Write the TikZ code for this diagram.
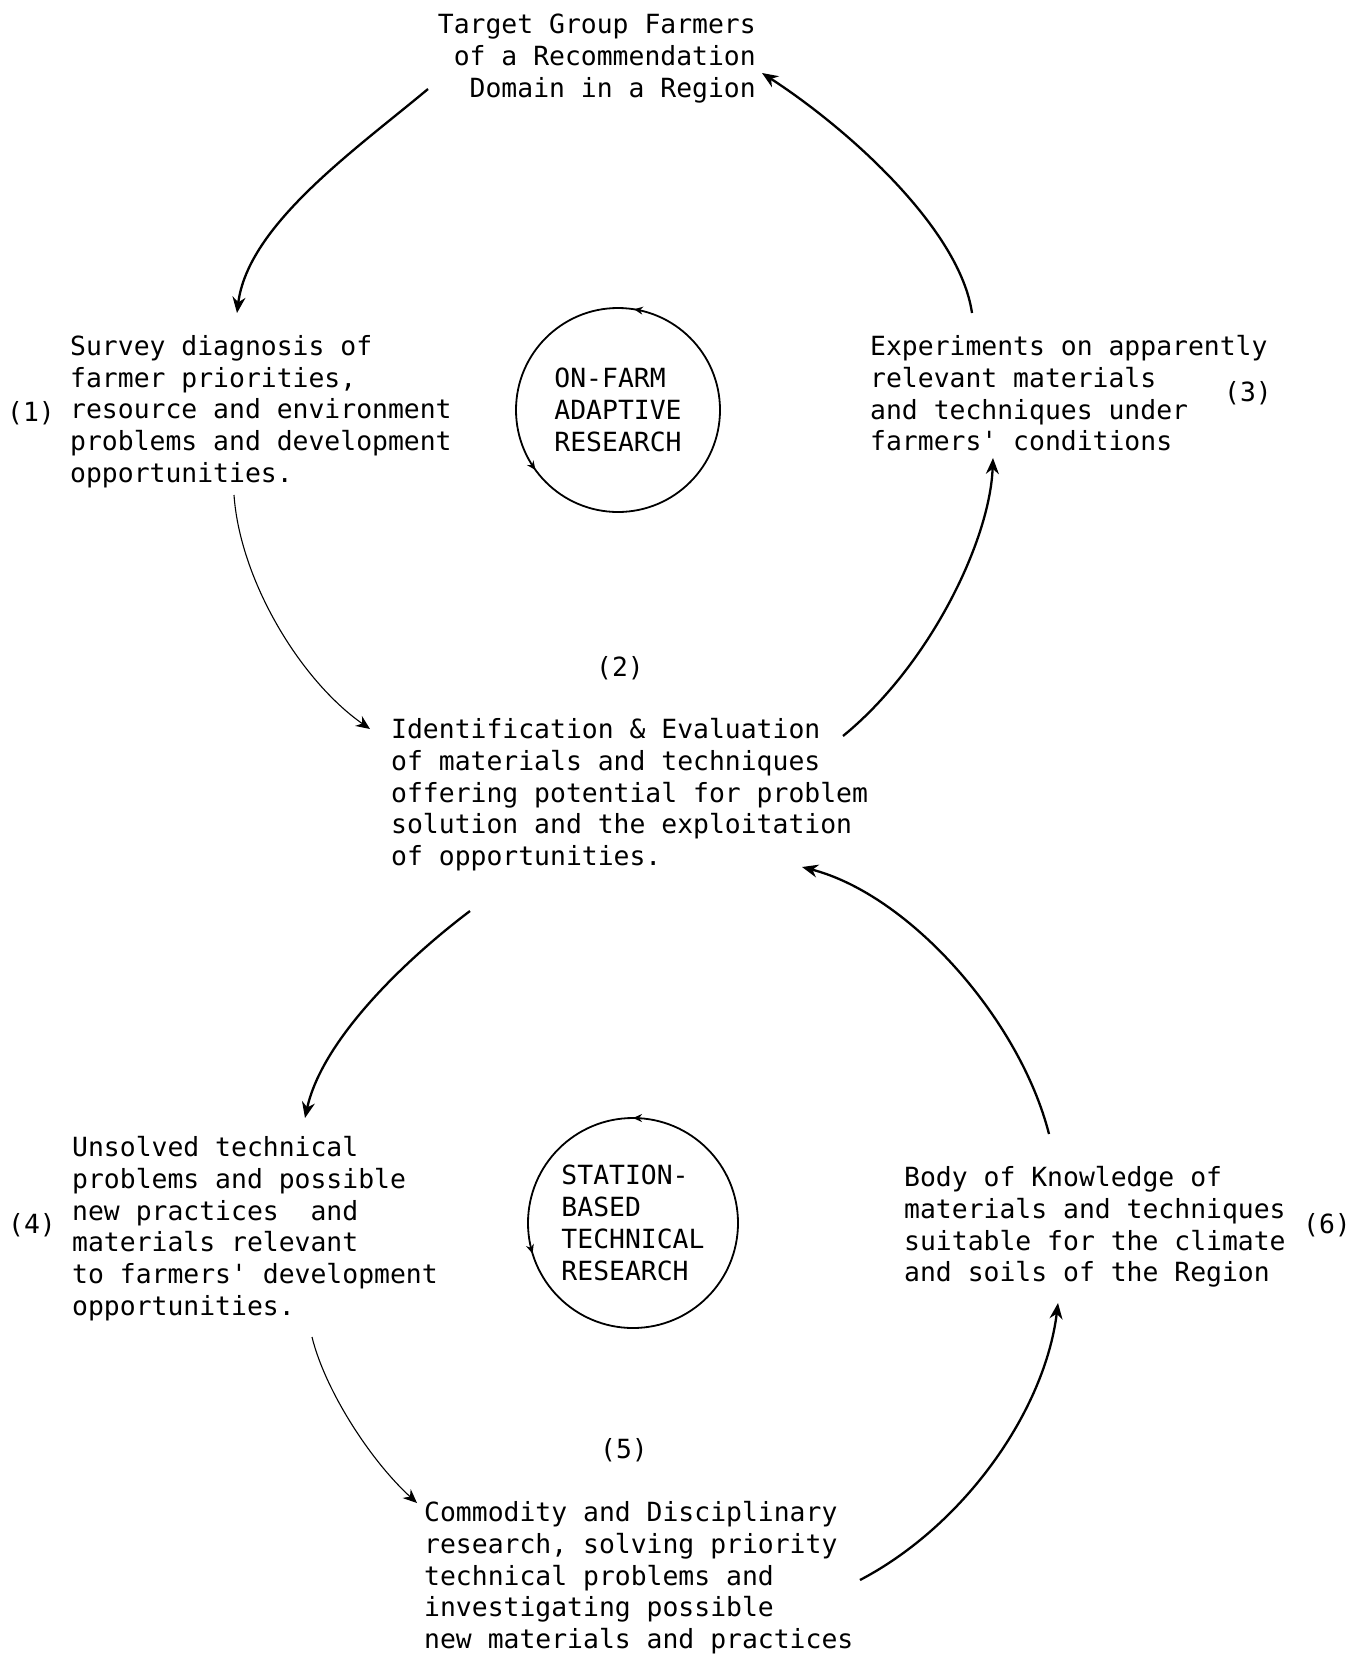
\documentclass[tikz,border=0pt]{standalone}
\usepackage{fontspec}
\setmonofont{DejaVu Sans Mono}
\usetikzlibrary{arrows.meta,decorations.markings}

\begin{document}
\begin{tikzpicture}[x=1pt, y=-1pt,
	txt/.style = {font=\ttfamily\fontsize{26.4}{31.8}\selectfont, inner sep=0pt},
	main/.style = {txt, draw, circle, line width=1.8pt, minimum size=#1, align=left},
	flow/.style 2 args = {postaction={decorate, decoration={markings,
		mark=at position #1 with {\arrow{Stealth[length=9pt,width=8pt]}},
		mark=at position #2 with {\arrow{Stealth[length=9pt,width=8pt]}}}}},
	arr/.style = {line width=2.3pt, -{Stealth[length=16pt,width=13pt]}},
	fine/.style = {line width=1.1pt, -{Stealth[length=14pt,width=12pt]}}]
		\useasboundingbox (0,0) rectangle (1361,1655);
		% upper cycle
		\node (top) [txt, anchor=north east, align=right] at (756,14) {Target Group Farmers\\of a Recommendation\\Domain in a Region};
		\node (survey) [txt, anchor=north west, align=left] at (70,335) {Survey diagnosis of\\farmer priorities,\\resource and environment\\problems and development\\opportunities.};
		\node (n1) [txt] at (31,413) {(1)};
		\node (onfarm) [main=204pt, flow={0.225}{0.6}] at (618,410) {ON-FARM\\ADAPTIVE\\RESEARCH};
		\node (exper) [txt, anchor=north west, align=left] at (870,335) {Experiments on apparently\\relevant materials\\and techniques under\\farmers' conditions};
		\node (n3) [txt] at (1248,393) {(3)};
		\node (n2) [txt] at (620,668) {(2)};
		\node (ident) [txt, anchor=north west, align=left] at (391,718) {Identification \& Evaluation\\of materials and techniques\\offering potential for problem\\solution and the exploitation\\of opportunities.};
		% lower cycle
		\node (unsolved) [txt, anchor=north west, align=left] at (72,1136) {Unsolved technical\\problems and possible\\new practices\ \ and\\materials relevant\\to farmers' development\\opportunities.};
		\node (n4) [txt] at (32,1225) {(4)};
		\node (station) [main=210pt, flow={0.25}{0.547}] at (633,1223) {STATION-\\BASED\\TECHNICAL\\RESEARCH};
		\node (body) [txt, anchor=north west, align=left] at (904,1166) {Body of Knowledge of\\materials and techniques\\suitable for the climate\\and soils of the Region};
		\node (n6) [txt] at (1327,1225) {(6)};
		\node (n5) [txt] at (624,1450) {(5)};
		\node (commod) [txt, anchor=north west, align=left] at (424,1501) {Commodity and Disciplinary\\research, solving priority\\technical problems and\\investigating possible\\new materials and practices};
		% connectors
		\draw[arr]  ([shift={(-328,75)}]top.north east) .. controls (355,150) and (248,225) .. ([shift={(167,-22)}]survey.north west);
		\draw[fine] ([shift={(164,160)}]survey.north west) .. controls (240,580) and (300,680) .. ([shift={(-21,11)}]ident.north west);
		\draw[arr]  ([shift={(452,18)}]ident.north west) .. controls (930,665) and (990,540) .. ([shift={(123,123)}]exper.north west);
		\draw[arr]  ([shift={(102,-22)}]exper.north west) .. controls (960,230) and (850,130) .. ([shift={(6,59)}]top.north east);
		\draw[arr]  ([shift={(79,193)}]ident.north west) .. controls (405,960) and (322,1040) .. ([shift={(233,-18)}]unsolved.north west);
		\draw[fine] ([shift={(240,201)}]unsolved.north west) .. controls (325,1390) and (370,1460) .. ([shift={(-7,2)}]commod.north west);
		\draw[arr]  ([shift={(436,79)}]commod.north west) .. controls (965,1525) and (1045,1410) .. ([shift={(154,137)}]body.north west);
		\draw[arr]  ([shift={(145,-32)}]body.north west) .. controls (1020,1020) and (910,895) .. ([shift={(411,149)}]ident.north west);
	\end{tikzpicture}
\end{document}
